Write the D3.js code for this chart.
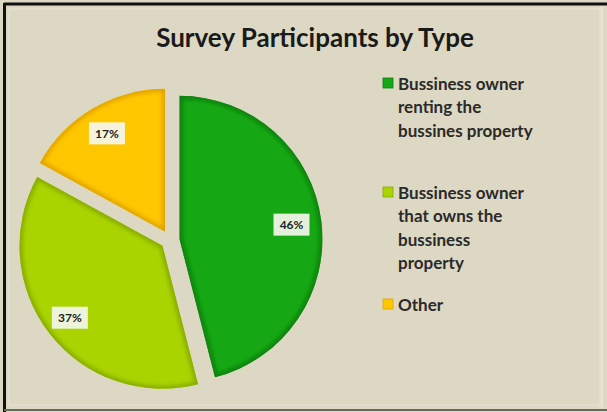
<!DOCTYPE html>
<html>
<head>
<meta charset="utf-8">
<script src="https://cdn.jsdelivr.net/npm/d3@7"></script>
<style>
  html, body { margin: 0; padding: 0; background: #ddd8c3; }
  svg { display: block; }
</style>
</head>
<body>
<svg id="chart" width="607" height="412"></svg>
<script>
// Survey participant shares by type
const categories = [
  "Bussiness owner renting the bussines property",
  "Bussiness owner that owns the bussiness property",
  "Other"
];
const values = [46, 37, 17];
const legendLines = [
  ["Bussiness owner", "renting the", "bussines property"],
  ["Bussiness owner", "that owns the", "bussiness", "property"],
  ["Other"]
];
const colors = ["#16a814", "#a9d400", "#ffc700"];
const rimColors = ["#0b7d0b", "#86aa00", "#e0a300"];
const chartTitle = "Survey Participants by Type";

const svg = d3.select("#chart");
const W = 607, H = 412;

// frame
svg.append("rect").attr("x", 0).attr("y", 0).attr("width", W).attr("height", H).attr("fill", "#ddd8c3");
svg.append("rect").attr("x", 9).attr("y", 9).attr("width", 591).attr("height", 396)
  .attr("fill", "none").attr("stroke", "#e8e4d4").attr("stroke-width", 1);
svg.append("line").attr("x1", 4).attr("x2", W).attr("y1", 4).attr("y2", 4).attr("stroke", "#111").attr("stroke-width", 3);
svg.append("line").attr("x1", 4.5).attr("x2", 4.5).attr("y1", 3).attr("y2", H).attr("stroke", "#111").attr("stroke-width", 3);
svg.append("line").attr("x1", 4).attr("x2", W).attr("y1", 410).attr("y2", 410).attr("stroke", "#666a5c").attr("stroke-width", 2);
svg.append("line").attr("x1", 602).attr("x2", 602).attr("y1", 6).attr("y2", 409).attr("stroke", "#ece9dc").attr("stroke-width", 1.5);

// title
svg.append("text")
  .attr("x", 315).attr("y", 47)
  .attr("text-anchor", "middle")
  .attr("font-family", "Lato, 'Open Sans', sans-serif")
  .attr("font-weight", "bold")
  .attr("font-size", 26)
  .attr("fill", "#1a1a1a")
  .text(chartTitle);

// pie
const cx = 170, cy = 240, radius = 143, explode = 9.5;
const pie = d3.pie().sort(null).value(d => d);
const arcs = pie(values);
const arc = d3.arc().innerRadius(0).outerRadius(radius);

const defs = svg.append("defs");
defs.append("filter").attr("id", "soft")
  .append("feGaussianBlur").attr("stdDeviation", 2.2);

const g = svg.append("g").attr("transform", `translate(${cx},${cy})`);

arcs.forEach((a, i) => {
  const mid = (a.startAngle + a.endAngle) / 2;
  const dx = explode * Math.sin(mid), dy = -explode * Math.cos(mid);
  const sg = g.append("g").attr("transform", `translate(${dx},${dy})`);
  const clipId = "clip" + i;
  defs.append("clipPath").attr("id", clipId).append("path").attr("d", arc(a));
  sg.append("path").attr("d", arc(a)).attr("fill", colors[i]);
  // soft bevelled rim
  sg.append("path").attr("d", arc(a))
    .attr("fill", "none")
    .attr("stroke", rimColors[i])
    .attr("stroke-width", 6)
    .attr("filter", "url(#soft)")
    .attr("clip-path", `url(#${clipId})`);
});

// percentage labels
const labelRadius = [0.79, 0.82, 0.8];
arcs.forEach((a, i) => {
  const mid = (a.startAngle + a.endAngle) / 2;
  const r = radius * labelRadius[i] + explode;
  const x = r * Math.sin(mid), y = -r * Math.cos(mid);
  const lg = g.append("g").attr("transform", `translate(${x},${y})`);
  lg.append("rect").attr("x", -18).attr("y", -11).attr("width", 36).attr("height", 22)
    .attr("fill", "#f4f6ee").attr("opacity", 0.92);
  lg.append("text")
    .attr("text-anchor", "middle").attr("dy", "0.35em")
    .attr("font-family", "Lato, 'Open Sans', sans-serif")
    .attr("font-weight", "bold").attr("font-size", 12)
    .attr("fill", "#222")
    .text(values[i] + "%");
});

// legend
const legendY = [90, 199, 311];
const lineH = 23.3;
legendLines.forEach((lines, i) => {
  svg.append("rect").attr("x", 383).attr("y", legendY[i] - 12).attr("width", 10).attr("height", 10)
    .attr("fill", colors[i]).attr("stroke", rimColors[i]).attr("stroke-width", 0.8);
  lines.forEach((t, j) => {
    svg.append("text")
      .attr("x", 398).attr("y", legendY[i] + j * lineH)
      .attr("font-family", "Lato, 'Open Sans', sans-serif")
      .attr("font-weight", "bold").attr("font-size", 17)
      .attr("fill", "#2a2a2a")
      .text(t);
  });
});
</script>
</body>
</html>
